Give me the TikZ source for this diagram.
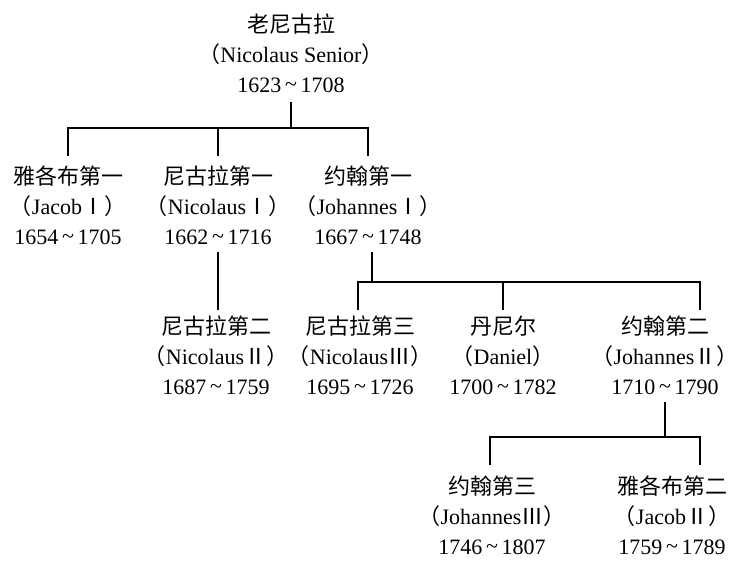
\documentclass[tikz,border=0pt]{standalone}
\usepackage{fontspec}
\setmainfont{Liberation Serif}
\newfontfamily\cjk{Noto Sans CJK SC}
\newcommand{\tl}{\raisebox{0.15ex}{\textasciitilde}}
\begin{document}
\begin{tikzpicture}[x=1pt,y=-1pt,
  person/.style={align=center,font=\fontsize{22}{30}\selectfont,inner sep=0pt,anchor=north},
  ln/.style={line width=1.1pt}]
\useasboundingbox (0,0) rectangle (745,567);
\node[person] (a) at (291,14) {{\cjk 老尼古拉}\\{\cjk （}Nicolaus Senior{\cjk ）}\\1623\,\tl\,1708};
\node[person] (b1) at (68,166) {{\cjk 雅各布第一}\\{\cjk （}Jacob{\cjk Ⅰ）}\\1654\,\tl\,1705};
\node[person] (b2) at (218,166) {{\cjk 尼古拉第一}\\{\cjk （}Nicolaus{\cjk Ⅰ）}\\1662\,\tl\,1716};
\node[person] (b3) at (368,166) {{\cjk 约翰第一}\\{\cjk （}Johannes{\cjk Ⅰ）}\\1667\,\tl\,1748};
\node[person] (c1) at (216,316) {{\cjk 尼古拉第二}\\{\cjk （}Nicolaus{\cjk Ⅱ）}\\1687\,\tl\,1759};
\node[person] (c2) at (360,316) {{\cjk 尼古拉第三}\\{\cjk （}Nicolaus{\cjk Ⅲ）}\\1695\,\tl\,1726};
\node[person] (c3) at (503,316) {{\cjk 丹尼尔}\\{\cjk （}Daniel{\cjk ）}\\1700\,\tl\,1782};
\node[person] (c4) at (665,316) {{\cjk 约翰第二}\\{\cjk （}Johannes{\cjk Ⅱ）}\\1710\,\tl\,1790};
\node[person] (d1) at (492,476) {{\cjk 约翰第三}\\{\cjk （}Johannes{\cjk Ⅲ）}\\1746\,\tl\,1807};
\node[person] (d2) at (672,476) {{\cjk 雅各布第二}\\{\cjk （}Jacob{\cjk Ⅱ）}\\1759\,\tl\,1789};
\coordinate (j1) at (291,128);
\draw[ln] (291,102) -- (j1);
\draw[ln] (68,156) |- (j1) -| (368,156);
\draw[ln] (218,156) -- (218,128);
\draw[ln] (218,252) -- (218,310);
\coordinate (j2) at (372,282);
\draw[ln] (372,252) -- (j2);
\draw[ln] (358,310) |- (j2) -| (700,310);
\draw[ln] (503,310) -- (503,282);
\coordinate (j3) at (665,437);
\draw[ln] (665,402) -- (j3);
\draw[ln] (490,465) |- (j3) -| (700,465);
\end{tikzpicture}
\end{document}
